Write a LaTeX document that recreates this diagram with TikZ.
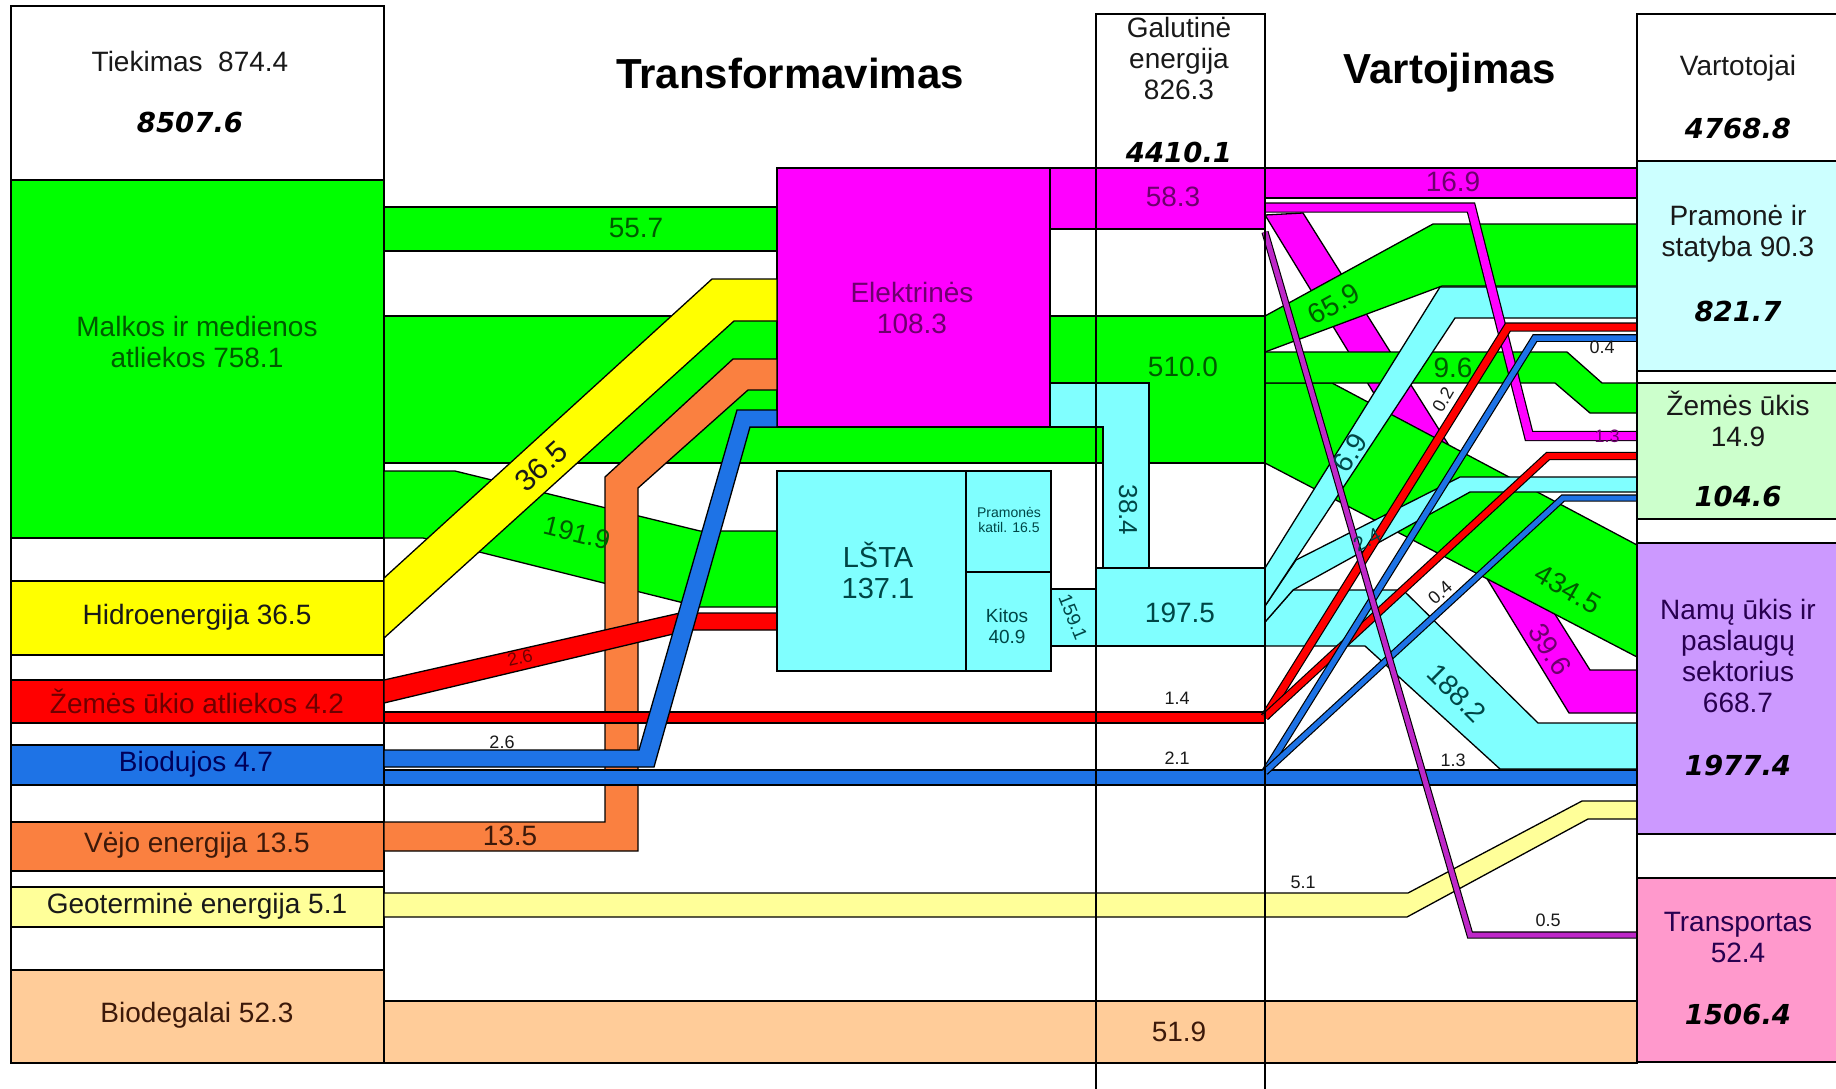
\documentclass[tikz,border=0pt]{standalone}
\usepackage{fontspec}
\setmainfont{Liberation Sans}
\newfontfamily\numfont{DejaVu Sans}
\definecolor{cgreen}{RGB}{0,255,0}
\definecolor{cmag}{RGB}{255,0,255}
\definecolor{cyel}{RGB}{255,255,0}
\definecolor{ccyan}{RGB}{128,255,255}
\definecolor{cred}{RGB}{255,0,0}
\definecolor{cblue}{RGB}{30,115,230}
\definecolor{corange}{RGB}{250,128,64}
\definecolor{cly}{RGB}{255,255,153}
\definecolor{cpeach}{RGB}{255,204,153}
\definecolor{cpram}{RGB}{204,255,255}
\definecolor{czem}{RGB}{204,255,204}
\definecolor{cnam}{RGB}{204,153,255}
\definecolor{ctrans}{RGB}{255,153,204}
\definecolor{cthin}{RGB}{190,40,200}
\definecolor{tgreen}{RGB}{0,90,0}
\definecolor{tpurple}{RGB}{110,0,110}
\definecolor{tteal}{RGB}{0,70,70}
\definecolor{tdark}{RGB}{25,25,25}
\definecolor{tred}{RGB}{110,0,0}
\definecolor{tblue}{RGB}{0,0,90}
\definecolor{tbrown}{RGB}{60,25,10}
\definecolor{tnam}{RGB}{40,0,80}
\tikzset{
  bd/.style={draw=black, line width=1.3pt, line join=miter},
  lab/.style={inner sep=0pt, align=center, text=tdark, font=\fontsize{28}{31}\selectfont},
  labs/.style={inner sep=0pt, align=center, text=tdark, font=\fontsize{18}{20}\selectfont},
  bnum/.style={inner sep=0pt, text=black, font=\numfont\bfseries\itshape\fontsize{27.5}{30}\selectfont},
  ttl/.style={inner sep=0pt, text=black, font=\bfseries\fontsize{42}{46}\selectfont},
  thinband/.style={draw=black, line width=1.2pt, line join=miter, double=#1}
}
\begin{document}
\begin{tikzpicture}[x=1pt,y=-1pt]
\useasboundingbox (0,0) rectangle (1836,1089);
\clip (0,0) rectangle (1836,1089);
\fill[white] (0,0) rectangle (1836,1089);

% left column
\draw[bd,fill=white] (11,6) rectangle (384,1063);
\draw[bd,fill=cgreen] (11,180) rectangle (384,538);
\draw[bd,fill=cyel] (11,581) rectangle (384,655);
\draw[bd,fill=cred] (11,680) rectangle (384,723);
\draw[bd,fill=cblue] (11,745) rectangle (384,785);
\draw[bd,fill=corange] (11,822) rectangle (384,871);
\draw[bd,fill=cly] (11,887) rectangle (384,927);
\draw[bd,fill=cpeach] (11,970) rectangle (384,1063);

% right column
\draw[bd,fill=white] (1637,14) rectangle (1850,1062);
\draw[bd,fill=cpram] (1637,161) rectangle (1850,371);
\draw[bd,fill=czem] (1637,383) rectangle (1850,519);
\draw[bd,fill=cnam] (1637,543) rectangle (1850,834);
\draw[bd,fill=ctrans] (1637,878) rectangle (1850,1062);

% green flows
\draw[bd,fill=cgreen] (384,316) rectangle (1265,463);
\draw[bd,fill=cgreen] (384,207) rectangle (777,251);
\draw[bd,fill=cgreen] (384,471) -- (455,471) -- (700,531) -- (777,531) -- (777,607) -- (700,607) -- (423,538) -- (384,538) -- cycle;

% heat from power plants
\draw[bd,fill=ccyan] (1050,383) -- (1149,383) -- (1149,568) -- (1103,568) -- (1103,427) -- (1050,427) -- cycle;
\fill[cgreen] (742,427.7) rectangle (1103,462.4);
\draw[bd] (750,427) -- (1103,427) -- (1103,463);

% power plants
\draw[bd,fill=cmag] (777,168) rectangle (1050,427);
\draw[bd,fill=cmag] (1050,168) rectangle (1265,229);

% wind, hydro
\draw[bd,fill=corange] (384,822) -- (605,822) -- (605,477) -- (733,359) -- (777,359) -- (777,390) -- (748,390) -- (638,488) -- (638,851) -- (384,851) -- cycle;
\draw[bd,fill=cyel] (384,578) -- (712,279) -- (777,279) -- (777,321) -- (734,321) -- (384,638) -- cycle;

% agricultural waste
\draw[bd,fill=cred] (384,680) -- (680,613) -- (777,613) -- (777,630) -- (690,630) -- (384,703) -- cycle;
\draw[bd,fill=cred] (384,712) rectangle (1265,723);

% biogas
\draw[bd,fill=cblue] (384,750) -- (639,750) -- (737,410) -- (777,410) -- (777,427) -- (750,427) -- (654,767) -- (384,767) -- cycle;
\draw[bd,fill=cblue] (384,770) rectangle (1637,785);

% geothermal, biofuels
\draw[bd,fill=cly] (384,893) -- (1408,893) -- (1582,801) -- (1637,801) -- (1637,819) -- (1588,819) -- (1407,917) -- (384,917) -- cycle;
\draw[bd,fill=cpeach] (384,1001) rectangle (1637,1063);

% district heating
\draw[bd,fill=ccyan] (777,471) rectangle (966,671);
\draw[bd,fill=ccyan] (966,471) rectangle (1051,572);
\draw[bd,fill=ccyan] (966,572) rectangle (1051,671);
\draw[bd,fill=ccyan] (1051,589) rectangle (1096,646);
\draw[bd,fill=ccyan] (1096,568) rectangle (1265,646);

% consumption flows
\draw[bd,fill=cmag] (1265,215) -- (1303,213) -- (1590,670) -- (1637,670) -- (1637,713) -- (1569,713) -- cycle;
\draw[bd,fill=cgreen] (1265,383) -- (1332,383) -- (1637,545) -- (1637,657) -- (1265,463) -- cycle;
\draw[bd,fill=cgreen] (1265,352) -- (1567,352) -- (1602,383) -- (1637,383) -- (1637,413) -- (1590,413) -- (1555,383) -- (1265,383) -- cycle;
\draw[bd,fill=cgreen] (1265,316) -- (1433,224) -- (1637,224) -- (1637,286) -- (1442,286) -- (1265,352) -- cycle;
\draw[bd,fill=ccyan] (1265,622) -- (1293,590) -- (1403,590) -- (1538,723) -- (1637,723) -- (1637,769) -- (1500,769) -- (1365,646) -- (1265,646) -- cycle;
\draw[bd,fill=ccyan] (1265,606) -- (1296,560) -- (1460,477) -- (1637,477) -- (1637,492) -- (1470,492) -- (1293,590) -- (1265,622) -- cycle;
\draw[bd,fill=ccyan] (1265,568) -- (1440,287) -- (1637,287) -- (1637,318) -- (1455,318) -- (1265,606) -- cycle;
\draw[thinband=cmag, double distance=8pt] (1265,207.5) -- (1471,207.5) -- (1529,436) -- (1637,436);
\draw[thinband=cred, double distance=7pt] (1265,717) -- (1508,327) -- (1637,327);
\draw[thinband=cred, double distance=6pt] (1265,717) -- (1548,456) -- (1637,456);
\draw[thinband=cblue, double distance=5.5pt] (1265,772) -- (1535,338) -- (1637,338);
\draw[thinband=cblue, double distance=5pt] (1265,772) -- (1563,498) -- (1637,498);
\draw[thinband=cthin, double distance=5pt, line width=1.1pt] (1265,232) -- (1470,935) -- (1637,935);
\draw[bd,fill=cmag] (1265,168) rectangle (1637,198);

% column lines
\draw[bd] (1096,1089) -- (1096,14) -- (1265,14) -- (1265,1089);
\draw[bd] (1637,14) -- (1637,1062);

% labels: supply
\node[lab] (tiek) at (190,61) {Tiekimas\ \ 874.4};
\node[bnum] (tiekv) at (190,123) {8507.6};
\node[lab,text=tgreen] (malk) at (197,342) {Malkos ir medienos\\atliekos 758.1};
\node[lab] (hidro) at (197,617) {Hidroenergija 36.5};
\node[lab,text=tred] (zem) at (197,701) {Žemės ūkio atliekos 4.2};
\node[lab,text=tblue] (biod) at (196,764) {Biodujos 4.7};
\node[lab,text=tbrown] (vejo) at (197,845) {Vėjo energija 13.5};
\node[lab] (geo) at (197,906) {Geoterminė energija 5.1};
\node[lab,text=tbrown] (biodeg) at (197,1015) {Biodegalai 52.3};

% titles
\node[ttl] (ttrans) at (790,73) {Transformavimas};
\node[ttl] (tvart) at (1450,73) {Vartojimas};

% final energy column
\node[lab] (gal) at (1179,58) {Galutinė\\energija\\826.3};
\node[bnum] (galv) at (1179,152) {4410.1};

% consumers
\node[lab] (vart) at (1738,68) {Vartotojai};
\node[bnum] (vartv) at (1738,129) {4768.8};
\node[lab] (pram) at (1738,234) {Pramonė ir\\statyba 90.3};
\node[bnum] (pramv) at (1738,311) {821.7};
\node[lab] (zemu) at (1738,419) {Žemės ūkis\\14.9};
\node[bnum] (zemuv) at (1738,496) {104.6};
\node[lab,text=tnam] (namu) at (1738,656) {Namų ūkis ir\\paslaugų\\sektorius\\668.7};
\node[bnum] (namuv) at (1738,766) {1977.4};
\node[lab,text=tnam] (trans) at (1738,937) {Transportas\\52.4};
\node[bnum] (transv) at (1738,1014) {1506.4};

% transformation labels
\node[lab,text=tgreen] (l557) at (636,228) {55.7};
\node[lab,text=tgreen,rotate=-14,font=\fontsize{27}{30}\selectfont] (l1919) at (577,533) {191.9};
\node[lab,rotate=42,font=\fontsize{30}{32}\selectfont] (l365) at (541,466) {36.5};
\node[labs,text=tred,rotate=13] (l26r) at (520,658) {2.6};
\node[labs] (l26b) at (502,742) {2.6};
\node[lab,text=tbrown] (l135) at (510,836) {13.5};
\node[lab,text=tpurple] (elek) at (912,308) {Elektrinės\\108.3};
\node[lab,text=tteal,font=\fontsize{29}{31}\selectfont] (lsta) at (878,570) {LŠTA\\137.1};
\node[lab,text=tteal,font=\fontsize{14}{15.5}\selectfont] (pkat) at (1009,520) {Pramonės\\katil. 16.5};
\node[lab,text=tteal,font=\fontsize{19}{21}\selectfont] (kitos) at (1007,626) {Kitos\\40.9};
\node[lab,text=tteal,rotate=-68,font=\fontsize{19}{21}\selectfont] (l1591) at (1073,617) {159.1};
\node[lab,text=tteal,rotate=-90,font=\fontsize{26}{28}\selectfont] (l384) at (1128,510) {38.4};
\node[lab,text=tteal] (l1975) at (1180,613) {197.5};
\node[lab,text=tgreen] (l510) at (1183,367) {510.0};
\node[lab,text=tpurple] (l583) at (1173,197) {58.3};
\node[labs] (l14) at (1177,698) {1.4};
\node[labs] (l21) at (1177,758) {2.1};
\node[lab,text=tbrown] (l519) at (1179,1032) {51.9};

% consumption labels
\node[labs] (l51) at (1303,882) {5.1};
\node[lab,text=tpurple] (l169) at (1453,182) {16.9};
\node[lab,text=tgreen,rotate=29] (l659) at (1334,304) {65.9};
\node[lab,text=tgreen] (l96) at (1453,368) {9.6};
\node[lab,text=tteal,rotate=58] (l69) at (1350,453) {6.9};
\node[labs,rotate=60] (l02) at (1443,400) {0.2};
\node[labs] (l04a) at (1602,347) {0.4};
\node[labs,text=tpurple] (l13m) at (1607,436) {1.3};
\node[labs,text=tteal,rotate=28,font=\fontsize{20}{22}\selectfont] (l24) at (1367,540) {2.4};
\node[lab,text=tgreen,rotate=-30] (l4345) at (1568,589) {434.5};
\node[lab,text=tpurple,rotate=-58] (l396) at (1550,649) {39.6};
\node[lab,text=tteal,rotate=-45] (l1882) at (1457,693) {188.2};
\node[labs,rotate=42] (l04b) at (1440,593) {0.4};
\node[labs] (l13b) at (1453,760) {1.3};
\node[labs] (l05) at (1548,920) {0.5};
\end{tikzpicture}
\end{document}
